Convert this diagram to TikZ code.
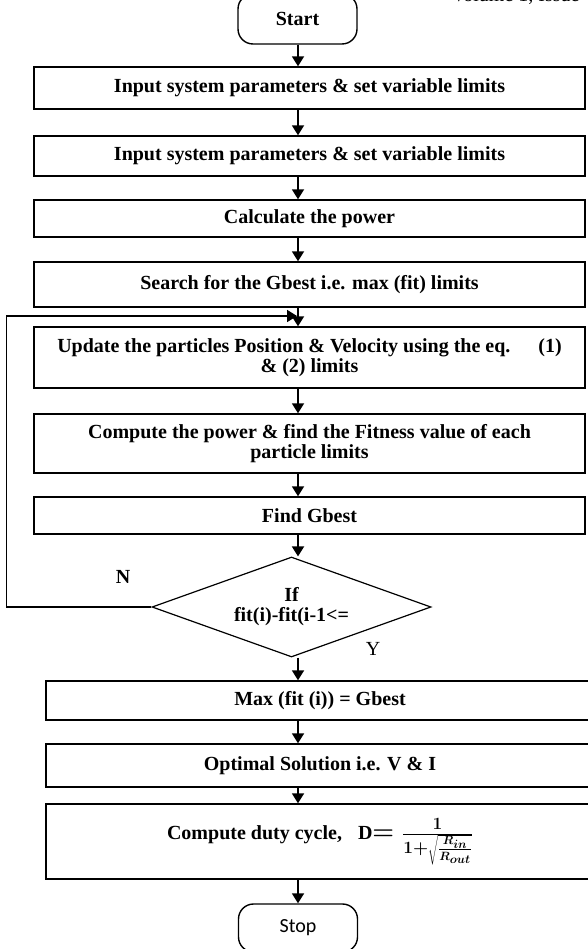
\documentclass[tikz,border=0pt]{standalone}
\usepackage{fontspec}
\setmainfont{Liberation Serif}
\newfontfamily\stopfont{Carlito}
\usetikzlibrary{shapes.geometric,arrows.meta}

\begin{document}
\begin{tikzpicture}[x=1pt,y=-1pt,
    font=\fontsize{20}{20}\selectfont\bfseries,
    box/.style={draw,line width=1.4pt,inner sep=0pt,align=center},
    upbox/.style={box,minimum width=551pt},
    lowbox/.style={box,minimum width=548pt},
    term/.style={draw,line width=1.4pt,rounded corners=15pt,minimum width=119pt,inner sep=0pt},
    arr/.style={line width=1.8pt,-{Triangle[length=10pt,width=12pt]}}]
\useasboundingbox (0,0) rectangle (587,949);

\node[font=\fontsize{20}{20}\selectfont,anchor=base west] at (448,2) (hd) {Volume 1, Issue};

\coordinate (ax) at (298,0);
\coordinate (j) at (297,316);

\node[term,minimum height=50pt] at (297.5,19) (st) {Start};

\node[upbox,minimum height=42pt] at (309.5,88) (b1) {Input system parameters \& set variable limits};
\node[upbox,minimum height=40pt] at (309.5,156) (b2) {Input system parameters \& set variable limits};
\node[upbox,minimum height=37pt] at (309.5,218.5) (b3) {Calculate the power};
\node[upbox,minimum height=45pt] at (309.5,284.5) (b4) {Search for the Gbest i.e. max (fit) limits};
\node[upbox,minimum height=61pt] at (309.5,357.5) (b5) {Update the particles Position \& Velocity using the eq.\hspace{1.4em}(1)\\\& (2) limits};
\node[upbox,minimum height=59pt] at (309.5,443.5) (b6) {Compute the power \& find the Fitness value of each\\particle limits};
\node[upbox,minimum height=37pt] at (309.5,515.5) (b7) {Find Gbest};

\node[draw,diamond,aspect=2.8,minimum width=279pt,minimum height=100pt,inner sep=0pt,line width=1.2pt,align=center] at (291.5,607) (dec) {If\\fit(i)-fit(i-1<=};

\node at (123,577) (n) {N};
\node[font=\fontsize{20}{20}\selectfont] at (373,649) (y) {Y};

\node[lowbox,minimum height=39pt] at (320,700.5) (b8) {Max (fit (i)) = Gbest};
\node[lowbox,minimum height=43pt] at (320,765.5) (b9) {Optimal Solution i.e. V \& I};
\node[lowbox,minimum height=75pt] at (320,841.5) (b10) {Compute duty cycle,\hspace{0.8em}D{\fontsize{23}{23}\selectfont\boldmath$=\frac{\mathbf{1}}{\mathbf{1}+\sqrt{\frac{R_{in}}{R_{out}}}}$}};

\node[term,minimum height=48pt,font={\stopfont\fontsize{20}{20}\selectfont}] at (298,928) (sp) {Stop};

\draw[arr] (st.south -| ax) -- (b1.north -| ax);
\draw[arr] (b1.south -| ax) -- (b2.north -| ax);
\draw[arr] (b2.south -| ax) -- (b3.north -| ax);
\draw[arr] (b3.south -| ax) -- (b4.north -| ax);
\draw[arr] (b4.south -| ax) -- (b5.north -| ax);
\draw[arr] (b5.south -| ax) -- (b6.north -| ax);
\draw[arr] (b6.south -| ax) -- (b7.north -| ax);
\draw[arr] (b7.south -| ax) -- (dec.north -| ax);
\draw[arr] (dec.south -| ax) -- (b8.north -| ax);
\draw[arr] (b8.south -| ax) -- (b9.north -| ax);
\draw[arr] (b9.south -| ax) -- (b10.north -| ax);
\draw[arr] (b10.south -| ax) -- (sp.north -| ax);

\draw[arr] (dec.west) -- ++(-145,0) |- (j);
\end{tikzpicture}
\end{document}
